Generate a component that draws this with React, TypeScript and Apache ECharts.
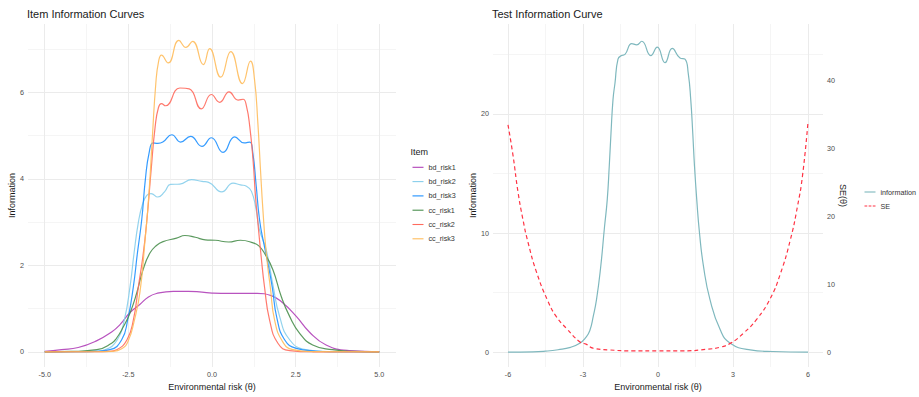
import React, { useEffect, useRef } from 'react';
import * as echarts from 'echarts';

const FONT = '"Liberation Sans", Arial, Helvetica, sans-serif';

// ---------- Left panel: item information curves ----------
const itemNames = ['bd_risk1', 'bd_risk2', 'bd_risk3', 'cc_risk1', 'cc_risk2', 'cc_risk3'];
const itemColors = ['#B040B8', '#87CEEB', '#1E90FF', '#4A8F4E', '#FF6B5E', '#FFBD5C'];

const thetaBdRisk1 = [-5, -4.5, -4, -3.44, -3, -2.75, -2.45, -2.15, -1.9, -1.66, -1.16, -0.7, -0.3, 0, 0.5, 1.0, 1.35, 1.77, 2.12, 2.52, 2.91, 3.41, 4.1, 5];
const infoBdRisk1 = [0.01, 0.05, 0.1, 0.26, 0.46, 0.63, 0.91, 1.1, 1.27, 1.35, 1.40, 1.40, 1.38, 1.36, 1.35, 1.35, 1.35, 1.30, 1.13, 0.82, 0.46, 0.16, 0.03, 0.003];

const thetaBdRisk2 = [-5, -4, -3.5, -3.2, -2.83, -2.62, -2.45, -2.33, -2.2, -2.08, -1.95, -1.82, -1.62, -1.42, -1.24, -0.96, -0.61, -0.3, -0.1, 0.29, 0.63, 0.85, 1.03, 1.18, 1.32, 1.42, 1.62, 1.82, 2.02, 2.32, 2.8, 3.5, 5];
const infoBdRisk2 = [0, 0.005, 0.015, 0.05, 0.28, 0.74, 1.51, 2.28, 3.0, 3.4, 3.62, 3.66, 3.58, 3.7, 3.87, 3.88, 3.98, 3.94, 3.92, 3.70, 3.90, 3.86, 3.83, 3.71, 3.29, 2.82, 2.36, 1.55, 0.82, 0.28, 0.05, 0.005, 0];

const thetaBdRisk3 = [-5, -4, -3.5, -3.05, -2.7, -2.52, -2.35, -2.23, -2.1, -1.99, -1.88, -1.76, -1.62, -1.47, -1.2, -0.94, -0.64, -0.3, -0.02, 0.33, 0.68, 0.96, 1.13, 1.22, 1.32, 1.42, 1.55, 1.67, 1.8, 1.94, 2.17, 2.52, 3.1, 3.6, 5];
const infoBdRisk3 = [0, 0.003, 0.01, 0.05, 0.28, 0.74, 1.51, 2.28, 3.06, 4.0, 4.6, 4.83, 4.82, 4.85, 5.02, 4.85, 4.98, 4.75, 4.95, 4.61, 4.97, 4.83, 4.85, 4.6, 3.85, 3.06, 2.5, 2.05, 1.5, 0.78, 0.28, 0.08, 0.02, 0.005, 0];

const thetaCcRisk1 = [-5, -4.2, -3.44, -3.0, -2.85, -2.65, -2.45, -2.25, -2.06, -1.86, -1.66, -1.46, -1.06, -0.81, -0.5, -0.2, 0.1, 0.5, 0.85, 1.23, 1.4, 1.57, 1.82, 2.07, 2.32, 2.62, 3.01, 3.6, 4.2, 5];
const infoCcRisk1 = [0, 0.01, 0.05, 0.2, 0.32, 0.58, 0.9, 1.36, 1.9, 2.28, 2.46, 2.55, 2.63, 2.69, 2.65, 2.59, 2.58, 2.54, 2.58, 2.52, 2.45, 2.28, 1.90, 1.28, 0.82, 0.43, 0.16, 0.05, 0.01, 0];

const thetaCcRisk2 = [-5, -3.5, -3.1, -2.85, -2.54, -2.35, -2.2, -2.05, -1.94, -1.82, -1.7, -1.6, -1.51, -1.39, -0.96, -0.68, -0.32, -0.02, 0.23, 0.51, 0.78, 0.93, 1.03, 1.13, 1.23, 1.3, 1.37, 1.47, 1.57, 1.72, 1.97, 2.32, 3, 5];
const infoCcRisk2 = [0, 0.002, 0.01, 0.05, 0.28, 0.74, 1.51, 2.3, 3.1, 4.2, 5.2, 5.65, 5.74, 5.69, 6.10, 6.08, 5.62, 5.95, 5.77, 6.01, 5.82, 5.84, 5.68, 5.2, 4.4, 3.6, 3.0, 2.2, 1.5, 0.74, 0.2, 0.03, 0.002, 0];

const thetaCcRisk3 = [-5, -3.5, -3, -2.7, -2.5, -2.33, -2.15, -2.0, -1.89, -1.78, -1.68, -1.6, -1.51, -1.31, -0.99, -0.78, -0.58, -0.26, -0.07, 0.26, 0.56, 0.91, 1.15, 1.27, 1.37, 1.45, 1.52, 1.62, 1.75, 1.87, 2.1, 2.42, 3, 5];
const infoCcRisk3 = [0, 0.002, 0.01, 0.07, 0.26, 0.7, 1.4, 2.6, 3.6, 5.0, 6.2, 6.7, 6.86, 6.68, 7.20, 7.04, 7.18, 6.64, 7.01, 6.35, 6.94, 6.20, 6.72, 6.3, 5.3, 4.2, 3.3, 2.3, 1.45, 0.74, 0.25, 0.05, 0.005, 0];

const itemThetas = [thetaBdRisk1, thetaBdRisk2, thetaBdRisk3, thetaCcRisk1, thetaCcRisk2, thetaCcRisk3];
const itemInfos = [infoBdRisk1, infoBdRisk2, infoBdRisk3, infoCcRisk1, infoCcRisk2, infoCcRisk3];

// ---------- Right panel: test information + SE ----------
const testTheta = [-6, -5, -4.5, -4, -3.5, -3.13, -2.9, -2.73, -2.59, -2.46, -2.3, -2.14, -2.03, -1.95, -1.88, -1.8, -1.72, -1.6, -1.46, -1.32, -1.05, -0.85, -0.65, -0.29, -0.03, 0.28, 0.57, 0.88, 1.08, 1.21, 1.31, 1.39, 1.46, 1.55, 1.66, 1.82, 2.08, 2.49, 2.89, 3.69, 4.6, 6];
const testInfo = [0, 0.02, 0.08, 0.2, 0.4, 0.75, 1.2, 1.8, 3.0, 4.4, 7.0, 10.5, 12.8, 15.6, 18.4, 21.2, 22.6, 24.6, 24.9, 25.0, 25.9, 25.8, 26.1, 24.9, 25.6, 24.3, 25.5, 24.7, 24.6, 23.4, 21.2, 18.4, 15.6, 12.8, 10.0, 7.2, 4.4, 1.87, 0.75, 0.19, 0.05, 0];

const seTheta = [-6, -5.8, -5.6, -5.4, -5.2, -4.86, -4.4, -4.06, -3.66, -3.12, -2.86, -2.6, -2, -1, 0, 1, 2, 2.5, 2.89, 3.42, 3.96, 4.49, 4.89, 5.29, 5.58, 5.78, 6];
const seValues = [33.5, 29.0, 23.6, 19.5, 16.2, 11.8, 7.5, 5.2, 3.5, 1.5, 1.15, 0.6, 0.35, 0.2, 0.2, 0.2, 0.45, 0.75, 1.3, 2.8, 4.9, 7.9, 11.5, 16.5, 21.5, 26.0, 33.9];

const testNames = ['information', 'SE'];
const testColors = ['#7FB8BE', '#FF3344'];

const pair = (xs: number[], ys: number[]) => xs.map((x, i) => [x, ys[i]]);
const isMult = (v: number, step: number) => Math.abs(v / step - Math.round(v / step)) < 1e-6;

const tickStyle = { color: '#4d4d4d', fontSize: 7.2, fontFamily: FONT };
const nameStyle = { color: '#1a1a1a', fontSize: 9, fontFamily: FONT };
const majorLine = { color: '#ebebeb', width: 1 };
const minorLine = { color: '#f0f0f0', width: 0.7 };

function valueAxis(extra: any) {
  return {
    type: 'value',
    axisLine: { show: false },
    axisTick: { show: false },
    splitLine: { show: true, lineStyle: majorLine, showMinLine: false, showMaxLine: false },
    minorTick: { show: false, splitNumber: 2 },
    minorSplitLine: { show: true, lineStyle: minorLine },
    nameTextStyle: nameStyle,
    nameLocation: 'middle',
    ...extra,
  };
}

export default function App() {
  const ref = useRef<HTMLDivElement>(null);
  useEffect(() => {
    document.body.style.margin = '0';
    const chart = echarts.init(ref.current!, undefined, { renderer: 'svg' });
    const itemSeries = itemNames.map((name, i) => ({
      name,
      type: 'line',
      xAxisIndex: 0,
      yAxisIndex: 0,
      data: pair(itemThetas[i], itemInfos[i]),
      symbol: 'none',
      smooth: 0.5,
      color: itemColors[i],
      lineStyle: { color: itemColors[i], width: 1.2, opacity: 0.9 },
    }));
    const option: any = {
      animation: false,
      backgroundColor: '#ffffff',
      textStyle: { fontFamily: FONT },
      title: [
        { text: 'Item Information Curves', left: 27, top: 8, padding: 0, textStyle: { fontSize: 11, fontWeight: 'normal', color: '#1a1a1a', fontFamily: FONT } },
        { text: 'Test Information Curve', left: 492, top: 8, padding: 0, textStyle: { fontSize: 11, fontWeight: 'normal', color: '#1a1a1a', fontFamily: FONT } },
      ],
      grid: [
        { left: 28, top: 24, width: 368, height: 343 },
        { left: 493, top: 24, width: 330, height: 343 },
      ],
      xAxis: [
        valueAxis({
          gridIndex: 0, min: -5.5, max: 5.5, minInterval: 2.5, maxInterval: 2.5,
          axisLabel: { ...tickStyle, margin: 4, formatter: (v: number) => (isMult(v, 2.5) ? v.toFixed(1) : '') },
          name: 'Environmental risk (θ)', nameGap: 12,
        }),
        valueAxis({
          gridIndex: 1, min: -6.6, max: 6.6, minInterval: 3, maxInterval: 3,
          axisLabel: { ...tickStyle, margin: 4, formatter: (v: number) => (isMult(v, 3) ? String(Math.round(v)) : '') },
          name: 'Environmental risk (θ)', nameGap: 12,
        }),
      ],
      yAxis: [
        valueAxis({
          gridIndex: 0, min: -0.35, max: 7.58, minInterval: 2, maxInterval: 2,
          axisLabel: { ...tickStyle, margin: 4, formatter: (v: number) => (isMult(v, 2) ? String(Math.round(v)) : '') },
          name: 'Information', nameGap: 11, nameRotate: 90,
        }),
        valueAxis({
          gridIndex: 1, min: -1.25, max: 27.55, minInterval: 10, maxInterval: 10,
          axisLabel: { ...tickStyle, margin: 4, formatter: (v: number) => (isMult(v, 10) ? String(Math.round(v)) : '') },
          name: 'Information', nameGap: 15, nameRotate: 90,
        }),
        valueAxis({
          gridIndex: 1, position: 'right', min: -2.18, max: 48.35, minInterval: 10, maxInterval: 10,
          splitLine: { show: false }, minorSplitLine: { show: false },
          axisLabel: { ...tickStyle, margin: 4, formatter: (v: number) => (isMult(v, 10) ? String(Math.round(v)) : '') },
          name: 'SE(θ)', nameGap: 13, nameRotate: -90,
        }),
      ],
      legend: [
        {
          data: itemNames.map((n) => ({ name: n, icon: 'path://M0,0H20V2H0Z' })),
          orient: 'vertical', left: 412.5, top: 162.8, padding: 0,
          itemWidth: 11, itemHeight: 1.3, itemGap: 5.3,
          itemStyle: { borderWidth: 0 },
          textStyle: { fontSize: 7.2, color: '#333333', fontFamily: FONT, lineHeight: 9 },
          selectedMode: false,
        },
        {
          data: [
            { name: 'information', icon: 'path://M0,0H20V2H0Z' },
            { name: 'SE', icon: 'path://M0,0H5V2H0Z M7.5,0H12.5V2H7.5Z M15,0H20V2H15Z' },
          ],
          orient: 'vertical', left: 864.5, top: 187.5, padding: 0,
          itemWidth: 11, itemHeight: 1.3, itemGap: 5,
          itemStyle: { borderWidth: 0 },
          textStyle: { fontSize: 7.2, color: '#333333', fontFamily: FONT, lineHeight: 9 },
          selectedMode: false,
        },
      ],
      graphic: [
        { type: 'text', left: 410.5, top: 147, style: { text: 'Item', fontSize: 9, fill: '#1a1a1a', fontFamily: FONT } },
      ],
      series: [
        ...itemSeries,
        {
          name: testNames[0], type: 'line', xAxisIndex: 1, yAxisIndex: 1,
          data: pair(testTheta, testInfo), symbol: 'none', smooth: 0.5,
          color: testColors[0], lineStyle: { color: testColors[0], width: 1.2 },
        },
        {
          name: testNames[1], type: 'line', xAxisIndex: 1, yAxisIndex: 2,
          data: pair(seTheta, seValues), symbol: 'none', smooth: 0.5,
          color: testColors[1], lineStyle: { color: testColors[1], width: 1.2, type: [4, 3] },
        },
      ],
    };
    chart.setOption(option);
    return () => chart.dispose();
  }, []);
  return <div ref={ref} style={{ position: 'fixed', left: 0, top: 0, width: 919, height: 397, background: '#fff' }} />;
}
